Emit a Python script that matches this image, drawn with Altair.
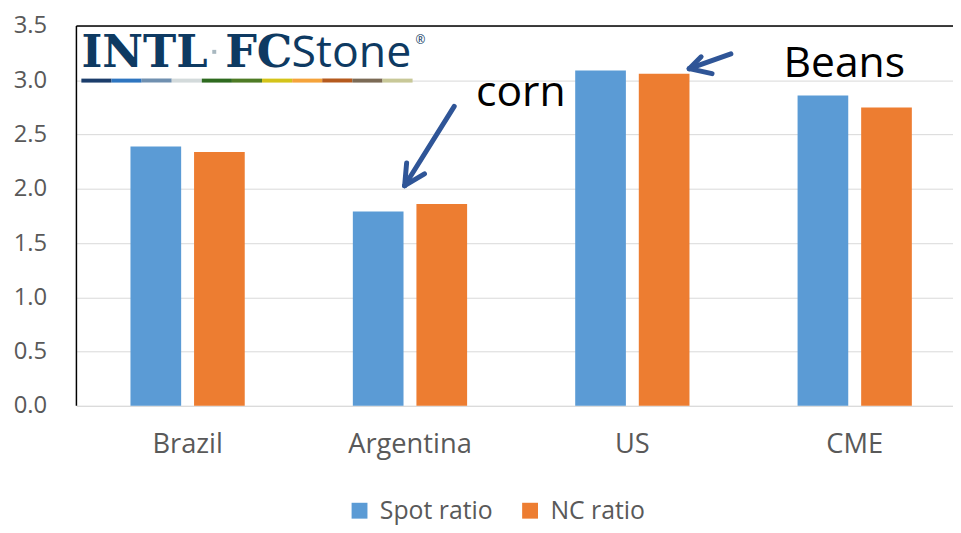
import altair as alt
import pandas as pd

categories = ["Brazil", "Argentina", "US", "CME"]
series = ["Spot ratio", "NC ratio"]
spot_ratio = [2.39, 1.79, 3.09, 2.86]
nc_ratio = [2.34, 1.86, 3.06, 2.75]
y_ticks = [0.0, 0.5, 1.0, 1.5, 2.0, 2.5, 3.0, 3.5]
bar_colors = ["#5B9BD5", "#ED7D31"]
logo_strip = ["#1B3D6B", "#2E75C0", "#7090B0", "#D3DADB", "#2E6A1F", "#4E7B25",
              "#D4C41A", "#F5A33A", "#B55A1E", "#7B6A55", "#C8C898"]

rows = []
for c, s, n in zip(categories, spot_ratio, nc_ratio):
    rows.append({"country": c, "series": series[0], "value": s})
    rows.append({"country": c, "series": series[1], "value": n})
df = pd.DataFrame(rows)

W, H = 884, 383
FONT = "Open Sans"
GRAY = "#595959"
NAVY = "#0E3A62"
ARROW = "#2F5597"

bars = alt.Chart(df).mark_bar().encode(
    x=alt.X("country:N", sort=categories,
            scale=alt.Scale(range=[0, 897], paddingInner=0, paddingOuter=0),
            axis=alt.Axis(title=None, labelAngle=0, labelFontSize=27.5, labelColor=GRAY,
                          labelFont=FONT, labelPadding=25, ticks=False, grid=False,
                          domainColor="#D9D9D9", domainWidth=1)),
    xOffset=alt.XOffset("series:N", sort=series,
                        scale=alt.Scale(paddingInner=0.203, paddingOuter=0.85)),
    y=alt.Y("value:Q", scale=alt.Scale(domain=[0, 3.5], nice=False),
            axis=alt.Axis(title=None, values=y_ticks, format=".1f", labelFontSize=24,
                          labelColor=GRAY, labelFont=FONT, labelPadding=30, ticks=False,
                          domain=False, gridColor="#D9D9D9", gridWidth=1)),
    color=alt.Color("series:N", sort=series,
                    scale=alt.Scale(domain=series, range=bar_colors),
                    legend=alt.Legend(title=None, orient="none", direction="horizontal",
                                      legendX=273, legendY=476, symbolType="square",
                                      symbolSize=256, symbolStrokeWidth=0,
                                      labelFontSize=25, labelFont=FONT, labelColor=GRAY,
                                      labelOffset=8, columnPadding=25)),
)

strip_df = pd.DataFrame({"idx": list(range(len(logo_strip))), "c": logo_strip})
strip = alt.Chart(strip_df).mark_rect().encode(
    x=alt.X("idx:O", scale=alt.Scale(range=[5, 339], paddingInner=0, paddingOuter=0), axis=None),
    y=alt.value(53), y2=alt.value(57),
    color=alt.Color("c:N", scale=None),
)

def rule(x1, y1, x2, y2, color="black", width=1.5, cap="butt"):
    return alt.Chart(pd.DataFrame({"a": [0]})).mark_rule(
        color=color, strokeWidth=width, strokeCap=cap).encode(
        x=alt.value(x1), y=alt.value(y1), x2=alt.value(x2), y2=alt.value(y2))

def text(t, x, y, size, color="black", font=FONT, weight="normal", align="left"):
    return alt.Chart(pd.DataFrame({"a": [0]})).mark_text(
        text=t, fontSize=size, font=font, fontWeight=weight, color=color,
        align=align, baseline="alphabetic").encode(x=alt.value(x), y=alt.value(y))

frame = [rule(0, 0, W, 0), rule(0, 0, 0, H)]

arrows = []
for seg in [((381, 81), (331, 161)), ((333, 138), (331, 161)), ((351, 149), (331, 161)),
            ((660, 28), (618, 43)), ((630, 31), (618, 43)), ((641, 48), (618, 43))]:
    (a, b), (c, d) = seg
    arrows.append(rule(a, b, c, d, color=ARROW, width=5, cap="round"))

labels = [
    text("corn", 403, 81, 43),
    text("Beans", 713, 51, 43),
    text("INTL", 5, 41, 45, color=NAVY, font="DejaVu Serif", weight="bold"),
    text("FC", 150, 41, 45, color=NAVY, font="DejaVu Serif", weight="bold"),
    text("Stone", 217, 41, 45, color=NAVY, font=FONT),
    text("®", 342, 18, 12, color=NAVY, font=FONT),
]
dot = alt.Chart(pd.DataFrame({"a": [0]})).mark_square(size=16, color="#A8B8C0", opacity=1).encode(
    x=alt.value(139), y=alt.value(26))

chart = alt.layer(bars, strip, *frame, *arrows, *labels, dot).resolve_scale(
    x="independent", color="independent"
).properties(
    width=W, height=H,
    autosize=alt.AutoSizeParams(type="none"),
    padding={"left": 69, "top": 16, "right": 0, "bottom": 124},
).configure_view(stroke=None)

chart.save("out.html", embed_options={"renderer": "svg", "actions": False})
